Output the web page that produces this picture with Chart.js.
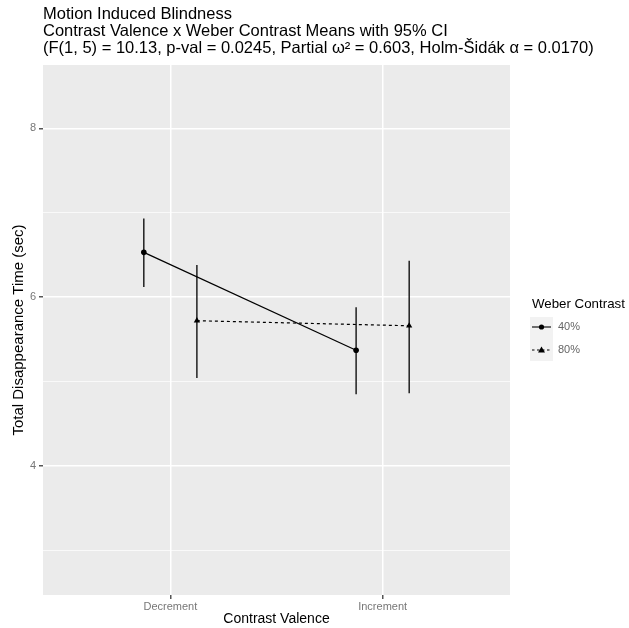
<!DOCTYPE html>
<html>
<head>
<meta charset="utf-8">
<script src="https://cdn.jsdelivr.net/npm/chart.js@4/dist/chart.umd.min.js"></script>
<style>
  html, body { margin: 0; padding: 0; background: #fff; }
  #wrap { width: 629px; height: 628px; }
</style>
</head>
<body>
<div id="wrap"><canvas id="chart"></canvas></div>
<script>
// data
const categories = ['Decrement', 'Increment'];
const groups = ['40%', '80%'];
const means40 = [6.53, 5.37];
const lower40 = [6.12, 4.85];
const upper40 = [6.93, 5.88];
const means80 = [5.72, 5.66];
const lower80 = [5.04, 4.86];
const upper80 = [6.38, 6.43];
const yTicks = [4, 6, 8];

const titleLines = [
    'Motion Induced Blindness',
    'Contrast Valence x Weber Contrast Means with 95% CI',
    '(F(1, 5) = 10.13, p-val = 0.0245, Partial \u03c9\u00b2 = 0.603, Holm-\u0160id\u00e1k \u03b1 = 0.0170)'
];

const dodge = 0.125;
const FONT = '"Liberation Sans", Arial, sans-serif';

function points(means, shift) {
    return means.map((m, i) => ({ x: i + shift, y: m }));
}

const series = [
    { label: groups[0], shift: -dodge, means: means40, lo: lower40, hi: upper40, dash: [], style: 'circle', radius: 2.8 },
    { label: groups[1], shift: dodge, means: means80, lo: lower80, hi: upper80, dash: [3, 3], style: 'triangle', radius: 3.6 }
];

// grey panel, error bars, title and legend
const ggPlugin = {
    id: 'gg',
    beforeDraw(chart) {
        const { ctx, chartArea: a } = chart;
        ctx.save();
        ctx.fillStyle = '#EBEBEB';
        ctx.fillRect(a.left, a.top, a.right - a.left, a.bottom - a.top);
        ctx.restore();
    },
    afterDatasetsDraw(chart) {
        const { ctx, scales: { x, y } } = chart;
        ctx.save();
        ctx.strokeStyle = '#000';
        ctx.lineWidth = 1.3;
        series.forEach(s => {
            s.means.forEach((m, i) => {
                const px = x.getPixelForValue(i + s.shift);
                ctx.beginPath();
                ctx.moveTo(px, y.getPixelForValue(s.lo[i]));
                ctx.lineTo(px, y.getPixelForValue(s.hi[i]));
                ctx.stroke();
            });
        });
        ctx.restore();
    },
    afterDraw(chart) {
        const { ctx, chartArea: a } = chart;
        ctx.save();
        // title
        ctx.fillStyle = '#000';
        ctx.font = '16.5px ' + FONT;
        ctx.textBaseline = 'middle';
        ctx.textAlign = 'left';
        titleLines.forEach((t, i) => ctx.fillText(t, a.left, 14 + i * 17.3));

        // legend
        const lx = 530;
        ctx.font = '13.3px ' + FONT;
        ctx.fillText('Weber Contrast', lx + 2, 304);
        ctx.fillStyle = '#F2F2F2';
        ctx.fillRect(lx, 317, 23, 44);
        series.forEach((s, i) => {
            const cy = 327 + i * 23;
            ctx.strokeStyle = '#000';
            ctx.lineWidth = 1.1;
            ctx.setLineDash(s.dash.length ? [2.5, 2.5] : []);
            ctx.beginPath();
            ctx.moveTo(lx + 2, cy);
            ctx.lineTo(lx + 21, cy);
            ctx.stroke();
            ctx.setLineDash([]);
            ctx.fillStyle = '#000';
            ctx.beginPath();
            if (s.style === 'circle') {
                ctx.arc(lx + 11.5, cy, 2.6, 0, Math.PI * 2);
            } else {
                ctx.moveTo(lx + 11.5, cy - 3.5);
                ctx.lineTo(lx + 15, cy + 2.5);
                ctx.lineTo(lx + 8, cy + 2.5);
                ctx.closePath();
            }
            ctx.fill();
            ctx.fillStyle = '#666';
            ctx.font = '11px ' + FONT;
            ctx.fillText(s.label, lx + 28, cy);
        });
        ctx.restore();
    }
};

new Chart(document.getElementById('chart'), {
    type: 'line',
    data: {
        datasets: series.map(s => ({
            label: s.label,
            data: points(s.means, s.shift),
            borderColor: '#000',
            backgroundColor: '#000',
            borderWidth: 1.2,
            borderDash: s.dash,
            pointStyle: s.style,
            pointRadius: s.radius,
            pointBorderWidth: 0,
            tension: 0,
            fill: false
        }))
    },
    options: {
        responsive: true,
        maintainAspectRatio: false,
        animation: false,
        layout: { padding: { top: 65, right: 119, left: 0, bottom: 0 } },
        plugins: {
            legend: { display: false },
            title: { display: false },
            tooltip: { enabled: false }
        },
        scales: {
            x: {
                type: 'linear',
                min: -0.6,
                max: 1.6,
                afterBuildTicks: sc => { sc.ticks = categories.map((c, i) => ({ value: i })); },
                afterFit: sc => { sc.height = 33; },
                border: { display: false },
                grid: { color: '#FFFFFF', lineWidth: 1.5, tickColor: '#555', tickLength: 4 },
                ticks: {
                    callback: v => categories[v],
                    color: '#777',
                    font: { family: FONT, size: 11 },
                    padding: 1,
                    maxRotation: 0
                },
                title: {
                    display: true,
                    text: 'Contrast Valence',
                    color: '#000',
                    font: { family: FONT, size: 14 },
                    padding: { top: 0, bottom: 0 }
                }
            },
            y: {
                min: 2.47,
                max: 8.75,
                afterBuildTicks: sc => {
                    const t = [];
                    for (let v = 3; v <= 8; v++) t.push({ value: v });
                    sc.ticks = t;
                },
                afterFit: sc => { sc.width = 43; },
                border: { display: false },
                grid: {
                    color: '#FFFFFF',
                    lineWidth: c => (yTicks.includes(c.tick.value) ? 1.5 : 0.7),
                    tickColor: c => (yTicks.includes(c.tick.value) ? '#555' : 'rgba(0,0,0,0)'),
                    tickLength: 4
                },
                ticks: {
                    callback: v => (yTicks.includes(v) ? String(v) : ''),
                    color: '#777',
                    font: { family: FONT, size: 11 },
                    padding: 3
                },
                title: {
                    display: true,
                    text: 'Total Disappearance Time (sec)',
                    color: '#000',
                    font: { family: FONT, size: 15 },
                    padding: { top: 10, bottom: 0 }
                }
            }
        }
    },
    plugins: [ggPlugin]
});
</script>
</body>
</html>
